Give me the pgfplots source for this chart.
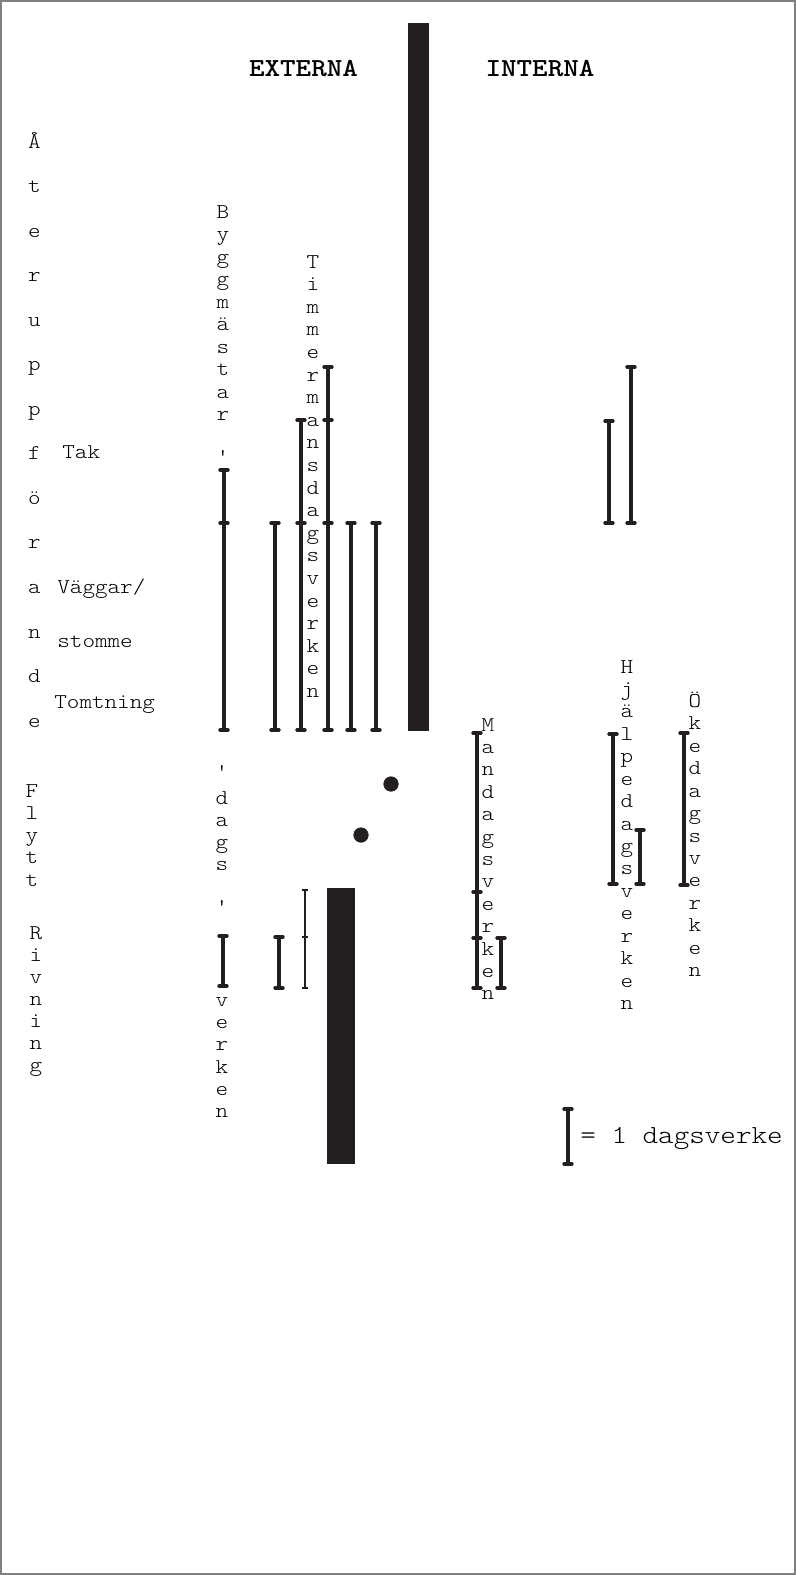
\documentclass[border=0pt]{standalone}
\usepackage{pgfplots}
\pgfplotsset{compat=1.18}
\usepackage{fontspec}
\newfontfamily\cour{lmmonolt10-regular.otf}[FakeStretch=1.14, BoldFont=lmmonolt10-bold.otf]
\definecolor{ink}{RGB}{35,31,32}
\definecolor{frame}{RGB}{128,128,128}
\newcommand\lab{\cour\fontsize{10.5}{13}\selectfont}
\newcommand\vstack[4]{%
  \foreach \c [count=\i from 0] in {#4} {\node[anchor=base, inner sep=0pt, font=\lab] at (#1, {#2+#3*\i}) {\c};}}
\begin{document}
\begin{tikzpicture}
\begin{axis}[at={(0,0)}, anchor=north west, scale only axis,
  width=398pt, height=787.5pt, xmin=0, xmax=796, ymin=0, ymax=1575,
  y dir=reverse, hide axis, clip=false,
  dv/.style={ink, line width=1.75pt, mark=-, mark size=2pt,
    mark options={line width=1.7pt, solid, line cap=round}}]
\coordinate (TL) at (axis cs:0,0);
\draw[frame, line width=1pt] (axis cs:1,1) rectangle (axis cs:795,1574);
% big black bars
\addplot[fill=ink, draw=none] coordinates {(408,23)(429,23)(429,731)(408,731)} -- cycle;
\addplot[fill=ink, draw=none] coordinates {(327,888)(355,888)(355,1164)(327,1164)} -- cycle;
% externa, aateruppfoerande
\addplot[dv] coordinates {(224,470)(224,523)(224,730)};
\addplot[dv] coordinates {(275,523)(275,730)};
\addplot[dv] coordinates {(301,420)(301,523)(301,730)};
\addplot[dv] coordinates {(328,367)(328,420)(328,523)(328,730)};
\addplot[dv] coordinates {(351,523)(351,730)};
\addplot[dv] coordinates {(376,523)(376,730)};
% interna, aateruppfoerande
\addplot[dv] coordinates {(609,421)(609,523)};
\addplot[dv] coordinates {(631,367)(631,523)};
% externa, rivning
\addplot[dv] coordinates {(223,936)(223,986)};
\addplot[dv] coordinates {(279,937)(279,988)};
\addplot[dv, line width=1pt, mark size=1.3pt, mark options={line width=1pt}] coordinates {(305,890)(305,937)(305,988)};
% flytt dots
\addplot[only marks, mark=*, mark size=3.6pt, ink] coordinates {(391,784)(361,835)};
% interna, flytt/rivning
\addplot[dv] coordinates {(477,733)(477,892)(477,938)(477,988)};
\addplot[dv] coordinates {(501,938)(501,988)};
\addplot[dv] coordinates {(613,734)(613,884)};
\addplot[dv] coordinates {(640,830)(640,884)};
\addplot[dv] coordinates {(684,733)(684,885)};
% legend bar
\addplot[dv, line width=2pt] coordinates {(568,1109)(568,1164)};
\end{axis}
\begin{scope}[shift={(TL)}, x=0.5pt, y=-0.5pt]
\node[anchor=base, inner sep=0pt, font=\cour\bfseries\fontsize{13}{15}\selectfont] at (303.5,76) {EXTERNA};
\node[anchor=base, inner sep=0pt, font=\cour\bfseries\fontsize{13}{15}\selectfont] at (540,76) {INTERNA};
\vstack{34.5}{148}{44.55}{Å,t,e,r,u,p,p,f,ö,r,a,n,d,e}
\vstack{32}{797}{22.25}{F,l,y,t,t}
\vstack{36}{939}{22.1}{R,i,v,n,i,n,g}
\vstack{223}{218}{22.5}{B,y,g,g,m,ä,s,t,a,r}
\node[inner sep=0pt, font=\lab] at (223,457) {'};
\node[inner sep=0pt, font=\lab] at (222,772) {'};
\vstack{222}{804}{22}{d,a,g,s}
\node[inner sep=0pt, font=\lab] at (222,907) {'};
\vstack{222}{1006.5}{22.2}{v,e,r,k,e,n}
\vstack{313}{268}{22.6}{T,i,m,m,e,r,m,a,n,s,d,a,g,s,v,e,r,k,e,n}
\vstack{488}{731}{22.4}{M,a,n,d,a,g,s,v,e,r,k,e,n}
\vstack{627}{673}{22.43}{H,j,ä,l,p,e,d,a,g,s,v,e,r,k,e,n}
\vstack{695}{707.5}{22.42}{Ö,k,e,d,a,g,s,v,e,r,k,e,n}
\node[anchor=base west, inner sep=0pt, font=\lab] at (62,458) {Tak};
\node[anchor=base west, inner sep=0pt, font=\lab] at (57,593.5) {Väggar/};
\node[anchor=base west, inner sep=0pt, font=\lab] at (57,647.5) {stomme};
\node[anchor=base west, inner sep=0pt, font=\lab] at (54,708) {Tomtning};
\node[anchor=base west, inner sep=0pt, font=\cour\fontsize{13}{15}\selectfont] at (580,1143) {= 1 dagsverke};
\end{scope}
\end{tikzpicture}
\end{document}
